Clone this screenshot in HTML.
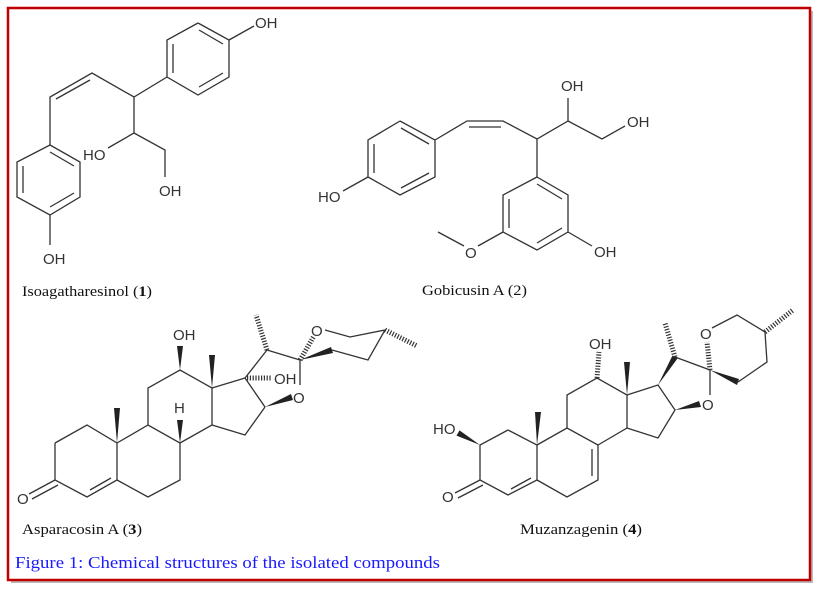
<!DOCTYPE html>
<html><head><meta charset="utf-8"><style>
html,body{margin:0;padding:0;background:#fff;width:817px;height:589px;overflow:hidden}
svg{display:block}
.b{stroke:#333;stroke-width:1.3;fill:none}
.h{stroke:#333;stroke-width:5;stroke-dasharray:1.2 1.6;fill:none}
.w{fill:#222}
.t{font-family:"Liberation Sans",sans-serif;font-size:15px;fill:#333}
.l{font-family:"Liberation Serif",serif;font-size:15px;fill:#111}
.c{font-family:"Liberation Serif",serif;font-size:17px;fill:#1a1aff}
</style></head><body>
<svg width="817" height="589" viewBox="0 0 817 589">
<rect x="11" y="11" width="802" height="572" fill="#bbb"/>
<rect x="8" y="8" width="802" height="572" fill="#fff" stroke="#c00000" stroke-width="2.5"/>

<!-- Compound 1 -->
<polyline class="b" points="198,23 229,40 229,77 198,95 167,77 167,40 198,23"/>
<line class="b" x1="199" y1="30" x2="223" y2="44"/><line class="b" x1="223" y1="73" x2="199" y2="87"/><line class="b" x1="173" y1="44" x2="173" y2="73"/>
<line class="b" x1="229" y1="40" x2="254" y2="26"/>
<text class="t" x="255" y="28">OH</text>
<polyline class="b" points="167,77 134,97 92,73 50,97 50,145"/>
<line class="b" x1="90" y1="80" x2="56" y2="99"/>
<polyline class="b" points="50,145 80,162 80,197 50,215 17,197 17,162 50,145"/>
<line class="b" x1="50" y1="152" x2="74" y2="166"/><line class="b" x1="74" y1="193" x2="50" y2="207"/><line class="b" x1="23" y1="166" x2="23" y2="193"/>
<line class="b" x1="50" y1="215" x2="50" y2="245"/>
<text class="t" x="43" y="264">OH</text>
<polyline class="b" points="134,97 134,133 108,148"/>
<text class="t" x="83" y="160">HO</text>
<polyline class="b" points="134,133 165,150 165,177"/>
<text class="t" x="159" y="196">OH</text>
<text class="l" x="22" y="296" textLength="130" lengthAdjust="spacingAndGlyphs">Isoagatharesinol (<tspan font-weight="bold">1</tspan>)</text>

<!-- Compound 2 -->
<polyline class="b" points="400,121 435,140 435,177 400,195 368,177 368,140 400,121"/>
<line class="b" x1="401" y1="128" x2="429" y2="144"/><line class="b" x1="429" y1="173" x2="401" y2="188"/><line class="b" x1="374" y1="144" x2="374" y2="173"/>
<line class="b" x1="368" y1="177" x2="343" y2="191"/>
<text class="t" x="318" y="202">HO</text>
<polyline class="b" points="435,140 467,121 503,121 537,139 568,121 568,98"/>
<line class="b" x1="469" y1="127" x2="501" y2="127"/>
<text class="t" x="561" y="91">OH</text>
<polyline class="b" points="568,121 602,139 625,126"/>
<text class="t" x="627" y="127">OH</text>
<line class="b" x1="537" y1="139" x2="537" y2="177"/>
<polyline class="b" points="537,177 568,195 568,232 537,250 503,232 503,195 537,177"/>
<line class="b" x1="537" y1="184" x2="562" y2="199"/><line class="b" x1="562" y1="228" x2="537" y2="243"/><line class="b" x1="509" y1="199" x2="509" y2="228"/>
<line class="b" x1="568" y1="232" x2="592" y2="246"/>
<text class="t" x="594" y="257">OH</text>
<polyline class="b" points="503,232 478,246"/>
<line class="b" x1="464" y1="246" x2="438" y2="232"/>
<text class="t" x="465" y="258">O</text>
<text class="l" x="422" y="295" textLength="105" lengthAdjust="spacingAndGlyphs">Gobicusin A (2)</text>

<!-- Compound 3 -->
<polyline class="b" points="55,443 87,425 117,443 117,480 87,497 55,480 55,443"/>
<line class="b" x1="111" y1="478" x2="90" y2="490"/>
<line class="b" x1="55" y1="480" x2="29" y2="494"/><line class="b" x1="58" y1="485" x2="32" y2="499"/>
<text class="t" x="17" y="504">O</text>
<polyline class="b" points="117,443 148,425 180,443 180,480 148,497 117,480"/>
<polyline class="b" points="148,425 148,388 180,370 212,388 212,425 180,443"/>
<polyline class="b" points="212,388 245,378 265,407"/>
<polyline class="b" points="265,407 245,435 212,425"/>
<polyline class="b" points="245,378 267,350 300,360 300,385"/>
<polyline class="b" points="325,330 350,337 385,330 368,360 332,350"/>
<polygon class="w" points="117,443 114,408 120,408"/>
<polygon class="w" points="212,388 209,355 215,355"/>
<polygon class="w" points="180,370 177,346 183,346"/>
<polygon class="w" points="180,443 177,420 183,420"/>
<polygon class="w" points="265,407 291,394 293,400"/>
<polygon class="w" points="300,360 331,347 333,353"/>
<line class="h" x1="247" y1="378" x2="272" y2="378"/>
<line class="h" x1="267" y1="350" x2="256" y2="315"/>
<line class="h" x1="300" y1="360" x2="314" y2="336"/>
<line class="h" x1="385" y1="330" x2="417" y2="346"/>
<text class="t" x="173" y="340">OH</text>
<text class="t" x="274" y="384">OH</text>
<text class="t" x="174" y="413">H</text>
<text class="t" x="293" y="403">O</text>
<text class="t" x="311" y="336">O</text>
<text class="l" x="22" y="534" textLength="120" lengthAdjust="spacingAndGlyphs">Asparacosin A (<tspan font-weight="bold">3</tspan>)</text>

<!-- Compound 4 -->
<polyline class="b" points="508,430 480,445 480,480 508,495 537,480 537,445 508,430"/>
<line class="b" x1="531" y1="478" x2="511" y2="489"/>
<line class="b" x1="480" y1="480" x2="455" y2="493"/><line class="b" x1="483" y1="485" x2="458" y2="498"/>
<text class="t" x="442" y="502">O</text>
<polyline class="b" points="537,445 567,428 598,445 598,480 567,497 537,480"/>
<line class="b" x1="592" y1="449" x2="592" y2="476"/>
<polyline class="b" points="567,428 567,395 597,378 627,395 627,428 598,445"/>
<polyline class="b" points="627,395 658,385 675,410 658,438 627,428"/>
<polyline class="b" points="675,357 710,370 710,395"/>
<polyline class="b" points="712,328 737,315 765,332 767,362 738,382"/>
<polygon class="w" points="480,445 459.5,430.4 456.5,435.6"/>
<polygon class="w" points="537,445 535,412 541,412"/>
<polygon class="w" points="627,395 624,362 630,362"/>
<polygon class="w" points="675,410 699,401 701,407"/>
<polygon class="w" points="658,385 677.5,358.5 672.5,355.5"/>
<polygon class="w" points="710,370 739,379 737,385"/>
<line class="h" x1="675" y1="357" x2="665" y2="323"/>
<line class="h" x1="597" y1="378" x2="599" y2="352"/>
<line class="h" x1="710" y1="370" x2="707" y2="342"/>
<line class="h" x1="765" y1="332" x2="793" y2="310"/>
<text class="t" x="433" y="434">HO</text>
<text class="t" x="589" y="349">OH</text>
<text class="t" x="702" y="410">O</text>
<text class="t" x="700" y="339">O</text>
<text class="l" x="520" y="534" textLength="122" lengthAdjust="spacingAndGlyphs">Muzanzagenin (<tspan font-weight="bold">4</tspan>)</text>

<text class="c" x="15" y="568" textLength="425" lengthAdjust="spacingAndGlyphs">Figure 1: Chemical structures of the isolated compounds</text>
</svg>
</body></html>
